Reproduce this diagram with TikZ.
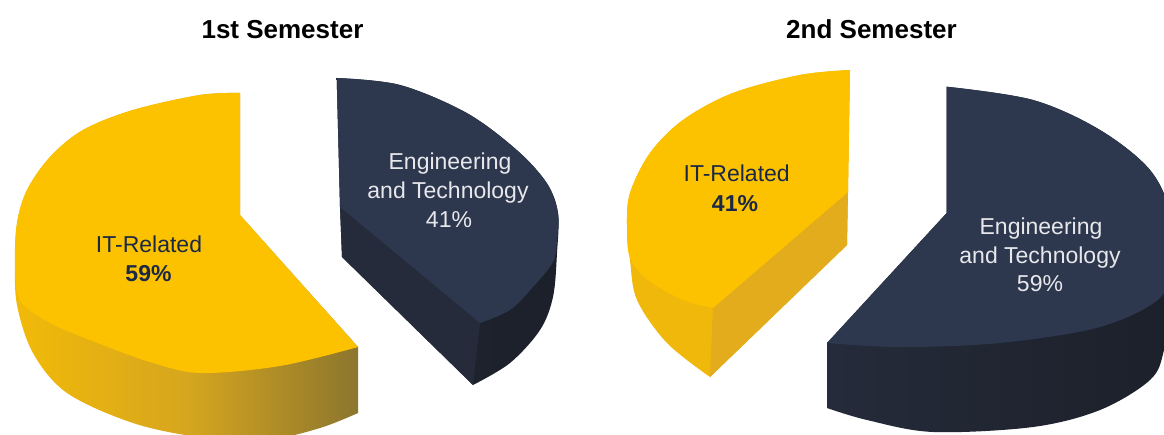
\documentclass[tikz,border=0pt]{standalone}
\usepackage{fontspec}
\setmainfont{Liberation Sans}
\definecolor{ytop}{RGB}{252,194,0}
\definecolor{ysideA}{RGB}{242,186,8}
\definecolor{ysideB}{RGB}{214,166,30}
\definecolor{ysideC}{RGB}{140,118,46}
\definecolor{ycut}{RGB}{226,172,28}
\definecolor{youter}{RGB}{240,184,10}
\definecolor{ntop}{RGB}{45,56,78}
\definecolor{nside}{RGB}{32,37,49}
\definecolor{ncut}{RGB}{37,43,58}
\definecolor{nsideR}{RGB}{28,32,42}
\definecolor{lbldark}{RGB}{27,40,70}
\definecolor{lbllight}{RGB}{232,232,236}
\begin{document}
\begin{tikzpicture}[x=1pt,y=-1pt,
  title/.style={font=\fontsize{26}{30}\selectfont\bfseries, anchor=base, inner sep=0pt, text=black},
  darklbl/.style={font=\fontsize{23}{28}\selectfont, anchor=base, inner sep=0pt, text=lbldark},
  darkbold/.style={darklbl, font=\fontsize{23}{28}\selectfont\bfseries},
  lightlbl/.style={font=\fontsize{23}{28}\selectfont, anchor=base, inner sep=0pt, text=lbllight},
  sm/.style={smooth, tension=0.55}]
\useasboundingbox (0,0) rectangle (1164,435);
\clip (0,0) rectangle (1164,435);
\fill[white] (0,0) rectangle (1164,435);

% ---------- left chart: yellow (IT-Related 59%) ----------
\shade[left color=ysideA, right color=ysideC, middle color=ysideB]
  (240,215) -- (240,93) -- plot[sm] coordinates {(240,93) (200,95) (133,110) (83,130) (50,157) (27,190) (17,223) (15,263) (17,305) (33,353) (67,393) (133,423) (200,437) (270,439) (320,428) (358,413)}
  -- (358,347) -- cycle;
\fill[ytop]
  (240,215) -- (240,93) -- plot[sm] coordinates {(240,93) (200,95) (133,110) (83,130) (50,157) (27,190) (17,223) (15,263) (20,300) (50,323) (100,344) (150,362) (200,373) (280,366) (358,347)}
  -- cycle;

% ---------- left chart: navy (Engineering and Technology 41%) ----------
\shade[left color=nside, right color=nsideR]
  (340,207) -- (336.7,78) -- plot[sm] coordinates {(336.7,78) (400,85) (466.7,113) (516.7,150) (546.7,183) (558,213) (557,253) (553,297) (540,330) (510,363) (473,385)}
  -- (342,257) -- cycle;
\fill[ncut] (340,207) -- (480,323) -- (473,385) -- (342,257) -- cycle;
\fill[ntop]
  (340,207) -- (336.7,78) -- plot[sm] coordinates {(336.7,78) (400,85) (466.7,113) (516.7,150) (546.7,183) (558,213) (557,240) (553,262) (533,287) (510,310) (480,323)}
  -- cycle;

% ---------- right chart: yellow (IT-Related 41%) ----------
\fill[youter]
  (848,192) -- (850,70) -- plot[sm] coordinates {(850,70) (800,75) (733,93) (683,120) (650,153) (630,193) (627,227) (630,260) (637,300) (667,343) (710,377)}
  -- (847,245) -- cycle;
\fill[ycut] (848,192) -- (713,308) -- (710,377) -- (847,245) -- cycle;
\fill[ytop]
  (848,192) -- (850,70) -- plot[sm] coordinates {(850,70) (800,75) (733,93) (683,120) (650,153) (630,193) (627,227) (630,258) (648,280) (683,300) (713,308)}
  -- cycle;

% ---------- right chart: navy (Engineering and Technology 59%) ----------
\shade[left color=ncut, right color=nsideR]
  (946.7,213) -- (946.7,86.7) -- plot[sm] coordinates {(946.7,86.7) (1033,100) (1100,130) (1150,170) (1170,215) (1173,290) (1164,350) (1150,380) (1100,410) (1033,427) (933,432) (867,420) (827,408)}
  -- (827,343) -- cycle;
\fill[ntop]
  (946.7,213) -- (946.7,86.7) -- plot[sm] coordinates {(946.7,86.7) (1033,100) (1100,130) (1150,170) (1170,215) (1172,260) (1160,298) (1100,327) (1000,343) (900,347) (827,343)}
  -- cycle;

% ---------- titles ----------
\node[title] (t1) at (282.5,38.3) {1st Semester};
\node[title] (t2) at (871.5,38.3) {2nd Semester};

% ---------- labels ----------
\node[darklbl] (ly1) at (149,253) {IT-Related};
\node[darkbold] (ly2) at (148.5,282) {59\%};

\node[lightlbl] (ln1) at (450,170) {Engineering};
\node[lightlbl] (ln2) at (448,199) {and Technology};
\node[lightlbl] (ln3) at (449,228) {41\%};

\node[darklbl] (ry1) at (736.7,181.7) {IT-Related};
\node[darkbold] (ry2) at (735,211.7) {41\%};

\node[lightlbl] (rn1) at (1041,235) {Engineering};
\node[lightlbl] (rn2) at (1040,263.5) {and Technology};
\node[lightlbl] (rn3) at (1040,292) {59\%};
\end{tikzpicture}
\end{document}
